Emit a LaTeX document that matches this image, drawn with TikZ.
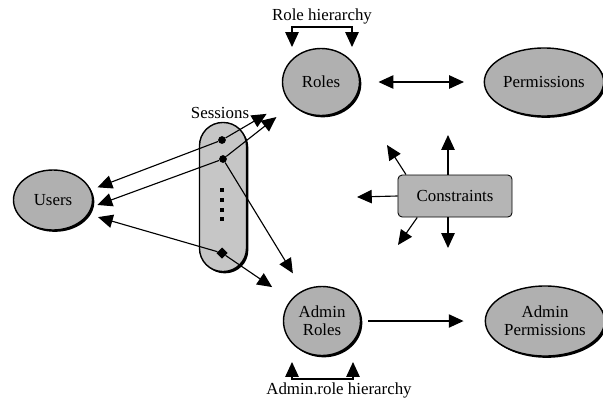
\documentclass[tikz,border=0pt]{standalone}
\usepackage{fontspec}
\setmainfont{Liberation Serif}
\usetikzlibrary{arrows.meta,shapes.geometric,shadows}
\tikzstyle{entity}=[ellipse,draw,line width=1pt,fill=gray!62,align=center,inner sep=1pt,
  drop shadow={shadow xshift=1.3pt,shadow yshift=-1.3pt,fill=black,opacity=1}]
\tikzstyle{sessbox}=[rectangle,rounded corners=0.58cm,draw,line width=1pt,fill=gray!45,
  minimum width=1.175cm,minimum height=3.725cm,
  drop shadow={shadow xshift=1.3pt,shadow yshift=-1.3pt,fill=black,opacity=1}]
\tikzstyle{constbox}=[rectangle,rounded corners=3pt,draw,line width=0.6pt,fill=gray!58,
  minimum width=2.85cm,minimum height=1.05cm]
\tikzstyle{sdot}=[circle,fill=black,minimum size=5.5pt,inner sep=0pt]
\tikzstyle{sbit}=[rectangle,fill=black,minimum size=2.8pt,inner sep=0pt]
\tikzstyle{lbl}=[inner sep=1pt]
\tikzstyle{arr}=[-{Triangle[length=10.5pt,width=9.5pt]},line width=0.8pt]
\tikzstyle{dblarr}=[{Triangle[length=10.5pt,width=9.5pt]}-{Triangle[length=10.5pt,width=9.5pt]},line width=0.8pt]

\begin{document}
\begin{tikzpicture}[x=0.025cm,y=-0.025cm,font=\fontsize{12pt}{13pt}\selectfont]
\useasboundingbox (0,0) rectangle (603,403);
% entities
\node[entity,minimum width=1.975cm,minimum height=1.5cm] (users) at (53,200) {Users};
\node[entity,minimum width=1.925cm,minimum height=1.675cm] (roles) at (321,82) {Roles};
\node[entity,minimum width=2.7cm,minimum height=1.7cm] (perm) at (544,82) {Permissions};
\node[entity,minimum width=1.925cm,minimum height=1.725cm] (aroles) at (322,321) {Admin\\Roles};
\node[entity,minimum width=2.75cm,minimum height=1.75cm] (aperm) at (545,321) {Admin\\Permissions};
\node[constbox] (con) at (455,196) {Constraints};
% sessions
\node[sessbox] (sess) at (223,197) {};
\node[lbl] (sesslbl) at (220,113) {Sessions};
\node[sdot] (s1) at (222,140) {};
\node[sdot] (s2) at (223,159) {};
\node[sbit] (b1) at (222,190) {};
\node[sbit] (b2) at (222,200) {};
\node[sbit] (b3) at (222,210) {};
\node[sbit] (b4) at (222,219) {};
\node[sdot,diamond,minimum size=8pt] (s3) at (222,253) {};
% hierarchies
\node[lbl] (rh) at (322,16) {Role hierarchy};
\coordinate (rhl) at (292,47);
\coordinate (rhr) at (352,47);
\draw[dblarr] (rhl) -- ++(0,-20) -| (rhr);
\node[lbl] (arh) at (339,390) {Admin.role hierarchy};
\coordinate (arhl) at (292,362);
\coordinate (arhr) at (353,362);
\draw[dblarr] (arhl) -- ++(0,17) -| (arhr);
% session links
\draw[arr,shorten >=5pt] (s1) -- (users.15);
\draw[arr,shorten >=4pt] (s2) -- (users.-10);
\draw[arr,shorten >=7pt] (s3) -- (users.-22);
\draw[arr,shorten >=18pt] (s1) -- (roles);
\draw[arr,shorten >=14pt] (s2) -- (roles);
\draw[arr,shorten >=14pt] (s2) -- (aroles);
\draw[arr,shorten >=16pt] (s3) -- (aroles);
% permissions
\draw[dblarr,shorten <=13pt,shorten >=14pt] (roles) -- (perm);
\draw[arr,shorten <=5pt,shorten >=15pt] (aroles) -- (aperm);
% constraints
\coordinate (cu) at (448,135);
\coordinate (cd) at (448,248);
\coordinate (cl) at (357,197);
\coordinate (cul) at (387,145);
\coordinate (cdl) at (398,245);
\draw[arr] (con.north -| cu) -- (cu);
\draw[arr] (con.south -| cd) -- (cd);
\draw[arr] (con.west) -- (cl);
\draw[arr] ([xshift=6pt]con.north west) -- (cul);
\draw[arr] ([xshift=14pt]con.south west) -- (cdl);
\end{tikzpicture}
\end{document}
